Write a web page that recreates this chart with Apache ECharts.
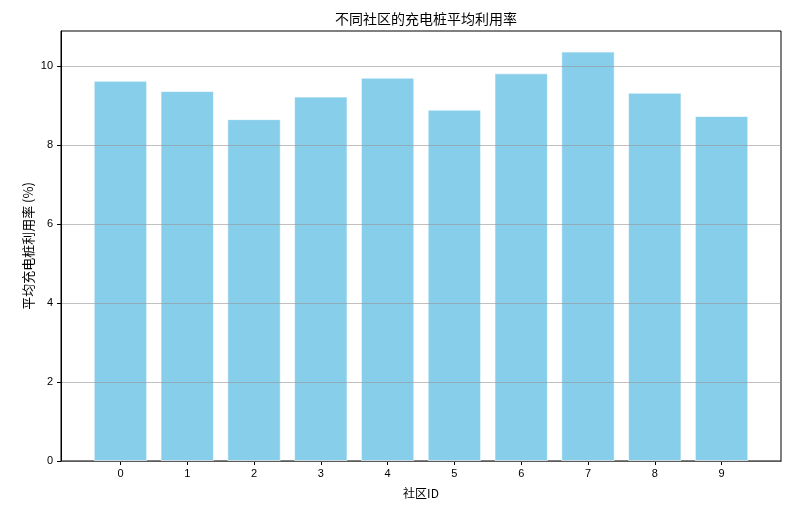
<!DOCTYPE html>
<html>
<head>
<meta charset="utf-8">
<script src="https://cdn.jsdelivr.net/npm/echarts@6/dist/echarts.min.js"></script>
<style>html,body{margin:0;padding:0;background:#fff}#c{width:796px;height:505px}</style>
</head>
<body>
<div id="c"></div>
<script>
const communities = [0, 1, 2, 3, 4, 5, 6, 7, 8, 9];
const utilization = [9.62, 9.36, 8.65, 9.22, 9.70, 8.89, 9.81, 10.36, 9.32, 8.73];
const yTicks = [0, 2, 4, 6, 8, 10];
const titleText = '不同社区的充电桩平均利用率';
const xName = '社区ID';
const yName = '平均充电桩利用率 (%)';

const chart = echarts.init(document.getElementById('c'), null, {renderer: 'canvas'});
const cjk = '"Noto Sans CJK SC", "Noto Sans", sans-serif';
const lat = '"Liberation Sans", "DejaVu Sans", sans-serif';
chart.setOption({
  animation: false,
  backgroundColor: '#fff',
  title: {
    text: titleText, left: 421, top: 7, textAlign: 'center',
    textStyle: {fontFamily: cjk, fontSize: 14, fontWeight: 'normal', color: '#000'}
  },
  grid: {
    left: 61, right: 15, top: 31, bottom: 44,
    show: true, borderColor: '#000', borderWidth: 1, backgroundColor: 'transparent'
  },
  xAxis: {
    type: 'value', min: -0.89, max: 9.89,
    name: xName, nameLocation: 'middle', nameGap: 26, nameMoveOverlap: false,
    nameTextStyle: {fontFamily: cjk, fontSize: 12, color: '#000'},
    axisLine: {show: true, onZero: false, lineStyle: {color: '#000'}},
    axisTick: {show: true, length: 4, inside: false, customValues: communities, lineStyle: {color: '#000'}},
    axisLabel: {customValues: communities, fontFamily: lat, fontSize: 11, color: '#000', margin: 7},
    splitLine: {show: false}
  },
  yAxis: {
    type: 'value', min: 0, max: 10.88, interval: 2, z: 5,
    name: yName, nameLocation: 'middle', nameGap: 26, nameRotate: 90, nameMoveOverlap: false,
    nameTextStyle: {fontFamily: cjk, fontSize: 13, color: '#000'},
    axisLine: {show: true, onZero: false, lineStyle: {color: '#000'}},
    axisTick: {show: true, length: 4, customValues: yTicks, lineStyle: {color: '#000'}},
    axisLabel: {customValues: yTicks, fontFamily: lat, fontSize: 11, color: '#000', margin: 8},
    splitLine: {show: true, lineStyle: {color: 'rgba(150,150,150,0.6)', width: 1}}
  },
  series: [{
    type: 'bar',
    data: communities.map((c, i) => [c, utilization[i]]),
    barWidth: '80%',
    itemStyle: {color: '#87CEEB', borderColor: 'rgba(255,255,255,0.6)', borderWidth: 1}
  }]
});
</script>
</body>
</html>
